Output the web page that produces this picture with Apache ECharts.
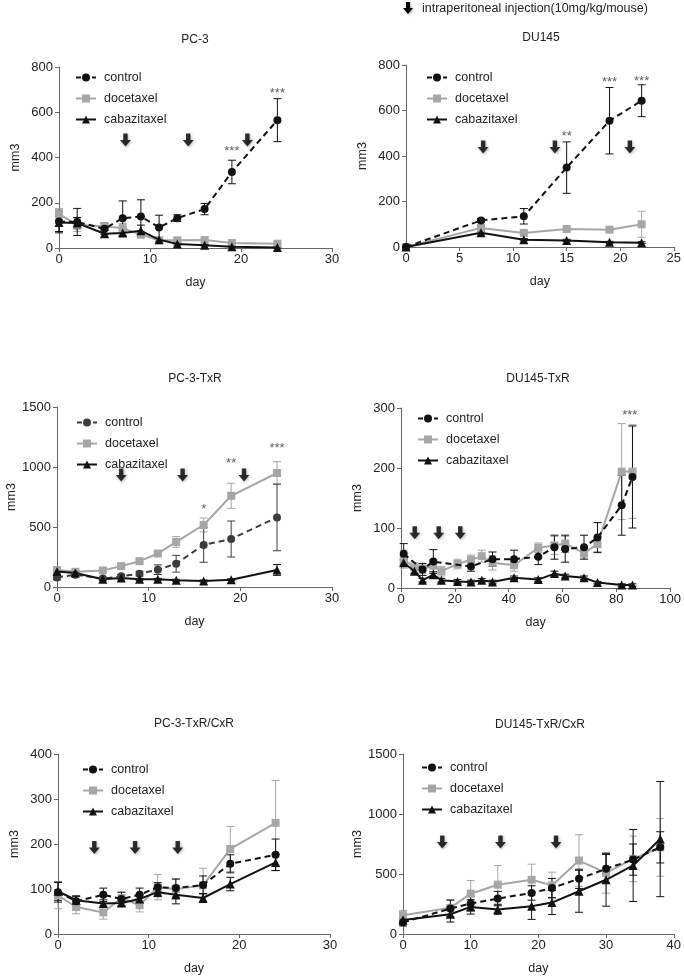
<!DOCTYPE html>
<html><head><meta charset="utf-8">
<script src="https://cdn.jsdelivr.net/npm/echarts/dist/echarts.min.js"></script>
<style>html,body{margin:0;padding:0;background:#fff}#c{width:684px;height:976px}</style>
</head><body><div id="c"></div>
<script>
// ---------- DATA ----------
var seriesNames = ['control', 'docetaxel', 'cabazitaxel'];
var panelTitles = ['PC-3', 'DU145', 'PC-3-TxR', 'DU145-TxR', 'PC-3-TxR/CxR', 'DU145-TxR/CxR'];
var headerText = 'intraperitoneal injection(10mg/kg/mouse)';

// PC-3
var pc3Days = [0, 2, 5, 7, 9, 11, 13, 16, 19, 24];
var pc3Control = [117, 115, 85, 132, 139, 91, 132, 172, 336, 565];
var pc3ControlErr = [50, 60, 25, 76, 74, 54, 15, 25, 52, 95];
var pc3Doce = [150, 103, 95, 88, 59, 34, 34, 35, 22, 19];
var pc3DoceErr = [25, 30, 15, 20, 10, 10, 8, 8, 8, 5];
var pc3Caba = [113, 110, 63, 66, 76, 37, 18, 12, 6, 2];
var pc3CabaErr = [40, 25, 15, 15, 25, 10, 5, 3, 2, 2];
var pc3ArrowDays = [7.3, 14.2, 20.7];
var pc3ArrowY = 477;
var pc3StarDays = [19, 24];
var pc3StarY = [425, 685];
var pc3StarText = ['***', '***'];

// DU145
var du145Days = [0, 7, 11, 15, 19, 22];
var du145Control = [0, 117, 135, 349, 555, 643];
var du145ControlErr = [0, 8, 34, 113, 146, 70];
var du145Doce = [0, 84, 62, 79, 76, 100];
var du145DoceErr = [0, 8, 8, 6, 6, 57];
var du145Caba = [0, 63, 32, 29, 21, 19];
var du145CabaErr = [0, 6, 5, 5, 4, 4];
var du145ArrowDays = [7.2, 13.9, 20.9];
var du145ArrowY = 440;
var du145StarDays = [15, 19, 22];
var du145StarY = [485, 725, 730];
var du145StarText = ['**', '***', '***'];

// PC-3-TxR
var pc3TxrDays = [0, 2, 5, 7, 9, 11, 13, 16, 19, 24];
var pc3TxrControl = [80, 103, 70, 89, 111, 144, 194, 351, 400, 580];
var pc3TxrControlErr = [20, 15, 10, 15, 20, 40, 70, 145, 150, 278];
var pc3TxrDoce = [141, 127, 138, 174, 215, 279, 376, 517, 760, 950];
var pc3TxrDoceErr = [15, 10, 10, 20, 15, 15, 45, 58, 105, 95];
var pc3TxrCaba = [130, 117, 64, 75, 64, 64, 56, 50, 61, 142];
var pc3TxrCabaErr = [20, 15, 8, 8, 8, 8, 8, 8, 8, 45];
var pc3TxrArrowDays = [7.0, 13.7, 20.4];
var pc3TxrArrowY = 934;
var pc3TxrStarDays = [16, 19, 24];
var pc3TxrStarY = [650, 1030, 1155];
var pc3TxrStarText = ['*', '**', '***'];

// DU145-TxR
var du145TxrDays = [1, 5, 8, 12, 15, 21, 26, 30, 34, 42, 51, 57, 61, 68, 73, 82, 86];
var du145TxrControl = [57, null, 31, 44, null, null, 36, null, 48, 48, 52, 68, 65, 68, 84, 138, 185];
var du145TxrControlErr = [17, 0, 10, 20, 0, 0, 8, 0, 12, 15, 13, 20, 22, 20, 25, 50, 85];
var du145TxrDoce = [48, 34, 32, 37, 28, 40, 47, 53, 42, 38, 67, 71, 74, 58, 73, 194, 194];
var du145TxrDoceErr = [15, 8, 8, 10, 8, 8, 8, 10, 12, 10, 8, 15, 15, 8, 12, 80, 78];
var du145TxrCaba = [42, 28, 13, 22, 13, 11, 10, 13, 10, 17, 14, 24, 20, 17, 9, 5, 5];
var du145TxrCabaErr = [5, 4, 3, 5, 3, 3, 3, 3, 3, 3, 3, 4, 3, 3, 2, 2, 2];
var du145TxrArrowDays = [5.1, 14, 22];
var du145TxrArrowY = 92;
var du145TxrStarDays = [85];
var du145TxrStarY = [287];
var du145TxrStarText = ['***'];

// PC-3-TxR/CxR
var pc3CxrDays = [0, 2, 5, 7, 9, 11, 13, 16, 19, 24];
var pc3CxrControl = [93, 73, 87, 78, 87, 104, 102, 109, 156, 176];
var pc3CxrControlErr = [22, 10, 15, 15, 15, 10, 20, 20, 20, 35];
var pc3CxrDoce = [86, 60, 48, 80, 64, 104, 100, 108, 189, 247];
var pc3CxrDoceErr = [30, 15, 15, 12, 15, 28, 23, 38, 50, 94];
var pc3CxrCaba = [95, 75, 68, 69, 78, 93, 87, 80, 111, 159];
var pc3CxrCabaErr = [20, 10, 8, 8, 10, 10, 20, 10, 15, 18];
var pc3CxrArrowDays = [4.0, 8.5, 13.2];
var pc3CxrArrowY = 192;

// DU145-TxR/CxR
var du145CxrDays = [0, 7, 10, 14, 19, 22, 26, 30, 34, 38];
var du145CxrControl = [97, 212, 254, 295, 342, 383, 460, 543, 620, 722];
var du145CxrControlErr = [30, 70, 60, 60, 60, 80, 80, 120, 130, 130];
var du145CxrDoce = [157, 218, 336, 411, 452, 405, 612, 510, 626, 722];
var du145CxrDoceErr = [40, 70, 110, 160, 130, 110, 215, 170, 190, 240];
var du145CxrCaba = [116, 165, 226, 204, 232, 262, 356, 452, 571, 791];
var du145CxrCabaErr = [30, 65, 60, 40, 110, 100, 175, 220, 300, 480];
var du145CxrArrowDays = [5.8, 14.4, 22.6];
var du145CxrArrowY = 766;

// axis ranges
var xMaxes = [30, 25, 30, 100, 30, 40];
var xIntervals = [10, 5, 10, 20, 10, 10];
var yMaxes = [800, 800, 1500, 300, 400, 1500];
var yIntervals = [200, 200, 500, 100, 100, 500];

// ---------- assemble ----------
var panelData = [
  {days: pc3Days, vals: [pc3Control, pc3Doce, pc3Caba], errs: [pc3ControlErr, pc3DoceErr, pc3CabaErr],
   arrows: pc3ArrowDays, arrowY: pc3ArrowY, stars: [pc3StarDays, pc3StarY, pc3StarText]},
  {days: du145Days, vals: [du145Control, du145Doce, du145Caba], errs: [du145ControlErr, du145DoceErr, du145CabaErr],
   arrows: du145ArrowDays, arrowY: du145ArrowY, stars: [du145StarDays, du145StarY, du145StarText]},
  {days: pc3TxrDays, vals: [pc3TxrControl, pc3TxrDoce, pc3TxrCaba], errs: [pc3TxrControlErr, pc3TxrDoceErr, pc3TxrCabaErr],
   arrows: pc3TxrArrowDays, arrowY: pc3TxrArrowY, stars: [pc3TxrStarDays, pc3TxrStarY, pc3TxrStarText]},
  {days: du145TxrDays, vals: [du145TxrControl, du145TxrDoce, du145TxrCaba], errs: [du145TxrControlErr, du145TxrDoceErr, du145TxrCabaErr],
   arrows: du145TxrArrowDays, arrowY: du145TxrArrowY, stars: [du145TxrStarDays, du145TxrStarY, du145TxrStarText]},
  {days: pc3CxrDays, vals: [pc3CxrControl, pc3CxrDoce, pc3CxrCaba], errs: [pc3CxrControlErr, pc3CxrDoceErr, pc3CxrCabaErr],
   arrows: pc3CxrArrowDays, arrowY: pc3CxrArrowY, stars: [[], [], []]},
  {days: du145CxrDays, vals: [du145CxrControl, du145CxrDoce, du145CxrCaba], errs: [du145CxrControlErr, du145CxrDoceErr, du145CxrCabaErr],
   arrows: du145CxrArrowDays, arrowY: du145CxrArrowY, stars: [[], [], []]}
];

// ---------- layout & style ----------
var FONT = '"Liberation Sans", Arial, sans-serif';
var grids = [
  {left: 59, top: 67, width: 273, height: 181},
  {left: 406, top: 65, width: 271, height: 182},
  {left: 57, top: 407, width: 275, height: 180},
  {left: 401, top: 408, width: 273, height: 180},
  {left: 58, top: 754, width: 272, height: 182},
  {left: 403, top: 754, width: 273, height: 182}
];
var titlePos = [[195, 40], [541, 38], [195, 379], [538, 379], [194, 724], [540, 725]];
var legendPos = [[70, 66], [421, 66], [71, 411], [412, 407], [77, 758], [416, 756]];
var lineColors = [['#111', '#a6a6a6', '#111'], ['#111', '#a6a6a6', '#111'], ['#3c3c3c', '#a6a6a6', '#111'],
                  ['#111', '#a6a6a6', '#111'], ['#111', '#a6a6a6', '#111'], ['#111', '#a6a6a6', '#111']];
var symbols = ['circle', 'rect', 'triangle'];
var AXIS = '#666';
var ARROW = 'path://M3,0 L7,0 L7,6 L10,6 L5,12 L0,6 L3,6 Z';

function errRender(params, api) {
  var x = api.value(0), lo = api.value(1), hi = api.value(2);
  if (isNaN(lo) || isNaN(hi) || hi - lo <= 0) return null;
  var p1 = api.coord([x, hi]), p2 = api.coord([x, lo]);
  var w = 4;
  var st = {stroke: api.visual('color'), lineWidth: 1};
  return {type: 'group', children: [
    {type: 'line', shape: {x1: p1[0], y1: p1[1], x2: p2[0], y2: p2[1]}, style: st},
    {type: 'line', shape: {x1: p1[0] - w, y1: p1[1], x2: p1[0] + w, y2: p1[1]}, style: st},
    {type: 'line', shape: {x1: p2[0] - w, y1: p2[1], x2: p2[0] + w, y2: p2[1]}, style: st}
  ]};
}

var option = {
  backgroundColor: '#fff',
  animation: false,
  textStyle: {fontFamily: FONT},
  grid: [], xAxis: [], yAxis: [], series: [], legend: [], graphic: []
};

panelData.forEach(function (pd, i) {
  option.grid.push(Object.assign({containLabel: false}, grids[i]));
  option.xAxis.push({
    type: 'value', gridIndex: i, min: 0, max: xMaxes[i], interval: xIntervals[i],
    name: 'day', nameLocation: 'middle', nameGap: 28,
    nameTextStyle: {fontSize: 12.5, color: '#222', fontFamily: FONT},
    axisLine: {show: true, onZero: false, lineStyle: {color: AXIS, width: 1}},
    axisTick: {show: true, length: 4, lineStyle: {color: AXIS}},
    axisLabel: {fontSize: 13, color: '#222', margin: 5, fontFamily: FONT},
    splitLine: {show: false}
  });
  option.yAxis.push({
    type: 'value', gridIndex: i, min: 0, max: yMaxes[i], interval: yIntervals[i],
    name: 'mm3', nameLocation: 'middle', nameGap: 37, nameRotate: 90,
    nameTextStyle: {fontSize: 12.5, color: '#222', fontFamily: FONT},
    axisLine: {show: true, onZero: false, lineStyle: {color: AXIS, width: 1}},
    axisTick: {show: true, length: 4, lineStyle: {color: AXIS}},
    axisLabel: {fontSize: 13, color: '#222', margin: 6, fontFamily: FONT,
                formatter: function (v) { return String(v); }},
    splitLine: {show: false}
  });
  // error bars
  [1, 0, 2].forEach(function (k) {
    var data = [];
    pd.days.forEach(function (d, j) {
      var v = pd.vals[k][j];
      if (v === null) return;
      var e = pd.errs[k][j];
      data.push([d, Math.max(0, v - e), v + e]);
    });
    option.series.push({
      type: 'custom', name: 'err' + i + k, xAxisIndex: i, yAxisIndex: i,
      renderItem: errRender, itemStyle: {color: lineColors[i][k]},
      encode: {x: 0, y: [1, 2]}, data: data, z: 1, silent: true
    });
  });
  // lines
  [1, 0, 2].forEach(function (k) {
    var data = pd.days.map(function (d, j) { return [d, pd.vals[k][j]]; });
    option.series.push({
      type: 'line', name: seriesNames[k], xAxisIndex: i, yAxisIndex: i,
      data: data, connectNulls: true,
      symbol: symbols[k], symbolSize: k === 2 ? 9 : 8, showSymbol: true,
      lineStyle: {color: lineColors[i][k], width: 2, type: k === 0 ? [6, 4] : 'solid'},
      itemStyle: {color: lineColors[i][k]},
      z: k === 1 ? 2 : 3, silent: true
    });
  });
  // arrows
  option.series.push({
    type: 'scatter', name: 'arrows' + i, xAxisIndex: i, yAxisIndex: i,
    symbol: ARROW, symbolSize: [11, 13],
    itemStyle: {color: '#000', shadowBlur: 3, shadowColor: 'rgba(0,0,0,0.35)', shadowOffsetX: 1, shadowOffsetY: 1},
    data: pd.arrows.map(function (d) { return [d, pd.arrowY]; }), z: 5, silent: true
  });
  // significance stars
  if (pd.stars[0].length) {
    option.series.push({
      type: 'scatter', name: 'stars' + i, xAxisIndex: i, yAxisIndex: i,
      symbolSize: 1, itemStyle: {color: 'rgba(0,0,0,0)'},
      label: {show: true, position: 'inside', fontSize: 13, color: '#333', fontFamily: FONT,
              formatter: function (p) { return p.data.txt; }},
      data: pd.stars[0].map(function (d, j) { return {value: [d, pd.stars[1][j]], txt: pd.stars[2][j]}; }),
      z: 5, silent: true
    });
  }
  // legend
  option.legend.push({
    left: legendPos[i][0], top: legendPos[i][1], orient: 'vertical',
    itemWidth: 20, itemHeight: 10, itemGap: 8, selectedMode: false,
    textStyle: {fontSize: 12.5, color: '#222', fontFamily: FONT, padding: [0, 0, 0, 3]},
    data: seriesNames.map(function (n, k) {
      return {name: n, itemStyle: {color: lineColors[i][k]},
              lineStyle: {color: lineColors[i][k], width: 2, type: k === 0 ? [5, 3] : 'solid'}};
    })
  });
  // title
  option.graphic.push({
    type: 'text', x: titlePos[i][0], y: titlePos[i][1],
    style: {text: panelTitles[i], fontSize: 12, fill: '#222', fontFamily: FONT, textAlign: 'center', textVerticalAlign: 'middle'}
  });
});

// header legend for arrows
option.graphic.push({
  type: 'polygon', x: 403, y: 2,
  shape: {points: [[3, 0], [7, 0], [7, 6], [10, 6], [5, 12], [0, 6], [3, 6]]},
  style: {fill: '#000', shadowBlur: 3, shadowColor: 'rgba(0,0,0,0.35)', shadowOffsetX: 1, shadowOffsetY: 1}
});
option.graphic.push({
  type: 'text', x: 422, y: 9,
  style: {text: headerText, fontSize: 12.5, fill: '#222', fontFamily: FONT, textVerticalAlign: 'middle'}
});

var chart = echarts.init(document.getElementById('c'), null, {renderer: 'canvas'});
chart.setOption(option);
</script></body></html>
